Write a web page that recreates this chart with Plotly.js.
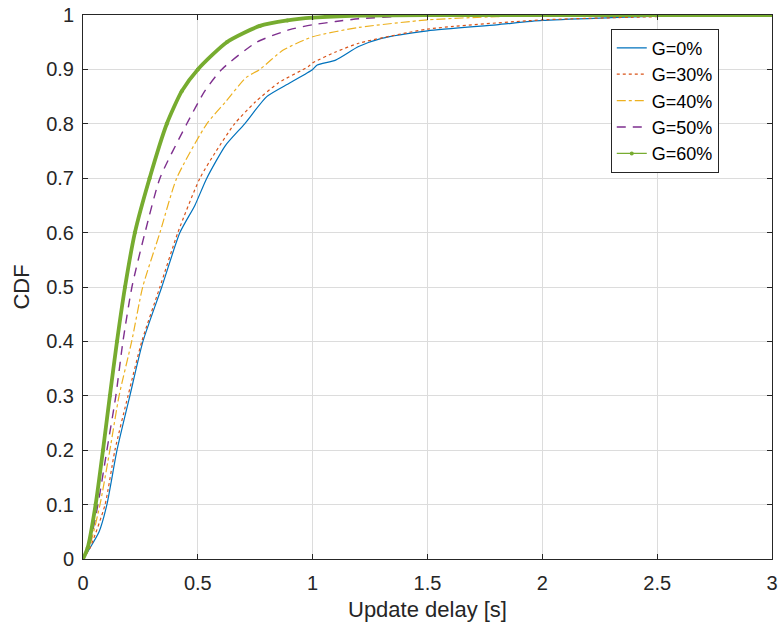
<!DOCTYPE html>
<html>
<head>
<meta charset="utf-8">
<script src="https://cdn.plot.ly/plotly-3.0.1.min.js"></script>
<style>html,body{margin:0;padding:0;background:#fff;}#chart{width:778px;height:628px;}</style>
</head>
<body>
<div id="chart"></div>
<script>
// Series data (x = update delay [s], y = CDF)
const g0x  = [0, 0.03, 0.07, 0.104, 0.148, 0.204, 0.261, 0.343, 0.422, 0.487, 0.539, 0.62, 0.704, 0.8, 0.9, 1.0, 1.02, 1.1, 1.2, 1.3, 1.5, 1.8, 2.0, 2.3, 2.5, 2.65, 3];
const g0y  = [0, 0.02, 0.05, 0.1, 0.2, 0.3, 0.4, 0.5, 0.6, 0.65, 0.7, 0.76, 0.8, 0.85, 0.875, 0.9, 0.908, 0.917, 0.942, 0.957, 0.971, 0.982, 0.99, 0.995, 0.998, 1, 1];
const g30x = [0, 0.03, 0.096, 0.139, 0.196, 0.256, 0.335, 0.413, 0.509, 0.58, 0.66, 0.75, 0.85, 0.98, 1.0, 1.1, 1.2, 1.5, 2.0, 2.5, 2.7, 3];
const g30y = [0, 0.02, 0.1, 0.2, 0.3, 0.4, 0.5, 0.6, 0.7, 0.75, 0.8, 0.84, 0.875, 0.905, 0.912, 0.932, 0.948, 0.974, 0.991, 0.997, 1, 1];
const g40x = [0, 0.03, 0.074, 0.117, 0.157, 0.212, 0.26, 0.335, 0.408, 0.539, 0.62, 0.71, 0.77, 0.87, 1.0, 1.2, 1.5, 1.8, 2.2, 3];
const g40y = [0, 0.025, 0.1, 0.2, 0.3, 0.4, 0.5, 0.6, 0.7, 0.8, 0.84, 0.885, 0.9, 0.935, 0.96, 0.977, 0.991, 0.997, 1, 1];
const g50x = [0, 0.03, 0.065, 0.104, 0.143, 0.174, 0.213, 0.27, 0.335, 0.452, 0.53, 0.604, 0.756, 0.9, 1.0, 1.1, 1.2, 1.4, 1.7, 3];
const g50y = [0, 0.03, 0.1, 0.2, 0.3, 0.4, 0.5, 0.6, 0.7, 0.8, 0.86, 0.9, 0.95, 0.973, 0.982, 0.988, 0.993, 0.998, 1, 1];
const g60x = [0, 0.02, 0.055, 0.087, 0.117, 0.148, 0.183, 0.226, 0.29, 0.365, 0.43, 0.5, 0.626, 0.77, 0.89, 1.0, 1.2, 1.5, 3];
const g60y = [0, 0.02, 0.1, 0.2, 0.3, 0.4, 0.5, 0.6, 0.7, 0.8, 0.86, 0.9, 0.95, 0.98, 0.99, 0.995, 0.999, 1, 1];
const names = ['G=0%', 'G=30%', 'G=40%', 'G=50%', 'G=60%'];
const xTicks = [0, 0.5, 1, 1.5, 2, 2.5, 3];
const yTicks = [0, 0.1, 0.2, 0.3, 0.4, 0.5, 0.6, 0.7, 0.8, 0.9, 1];

const FONT = 'Liberation Sans, Arial, Helvetica, sans-serif';
const sp = {shape: 'spline', smoothing: 0.6};

const traces = [
  {x: g0x, y: g0y, name: names[0], mode: 'lines', line: Object.assign({color: '#0072BD', width: 1.2}, sp)},
  {x: g30x, y: g30y, name: names[1], mode: 'lines', line: Object.assign({color: '#D95319', width: 1.2, dash: 'dot'}, sp)},
  {x: g40x, y: g40y, name: names[2], mode: 'lines', line: Object.assign({color: '#EDB120', width: 1.2, dash: 'dashdot'}, sp)},
  {x: g50x, y: g50y, name: names[3], mode: 'lines', line: Object.assign({color: '#7E2F8E', width: 1.4, dash: '9px,7px'}, sp)},
  {x: g60x, y: g60y, name: names[4], mode: 'lines', showlegend: false, line: Object.assign({color: '#77AC30', width: 3.8}, sp)},
  {x: g60x, y: g60y, name: names[4], mode: 'lines+markers', line: Object.assign({color: '#77AC30', width: 1.2}, sp), marker: {color: '#77AC30', size: 4}}
];

const axisCommon = {
  showline: true, linecolor: '#262626', linewidth: 1, mirror: 'allticks',
  ticks: 'inside', ticklen: 5, tickcolor: '#262626', tickwidth: 1,
  showgrid: true, gridcolor: '#dcdcdc', gridwidth: 1, zeroline: false,
  tickfont: {family: FONT, size: 20, color: '#262626'}
};

const layout = {
  width: 778, height: 628,
  margin: {l: 83, r: 6, t: 15, b: 69},
  paper_bgcolor: '#ffffff', plot_bgcolor: '#ffffff',
  showlegend: true,
  xaxis: Object.assign({}, axisCommon, {
    range: [0, 3], tickvals: xTicks, ticktext: xTicks.map(String), ticklabelstandoff: 6,
    title: {text: 'Update delay [s]', standoff: 8, font: {family: FONT, size: 22, color: '#262626'}}
  }),
  yaxis: Object.assign({}, axisCommon, {
    range: [0, 1], tickvals: yTicks, ticktext: yTicks.map(String), ticklabelstandoff: 4,
    title: {text: 'CDF', standoff: 10, font: {family: FONT, size: 22, color: '#262626'}}
  }),
  legend: {
    x: 0.766, y: 0.975, xanchor: 'left', yanchor: 'top',
    bgcolor: '#ffffff', bordercolor: '#262626', borderwidth: 1,
    font: {family: FONT, size: 18, color: '#000000'},
    tracegroupgap: 0
  }
};

Plotly.newPlot('chart', traces, layout, {displayModeBar: false, staticPlot: true});
</script>
</body>
</html>
